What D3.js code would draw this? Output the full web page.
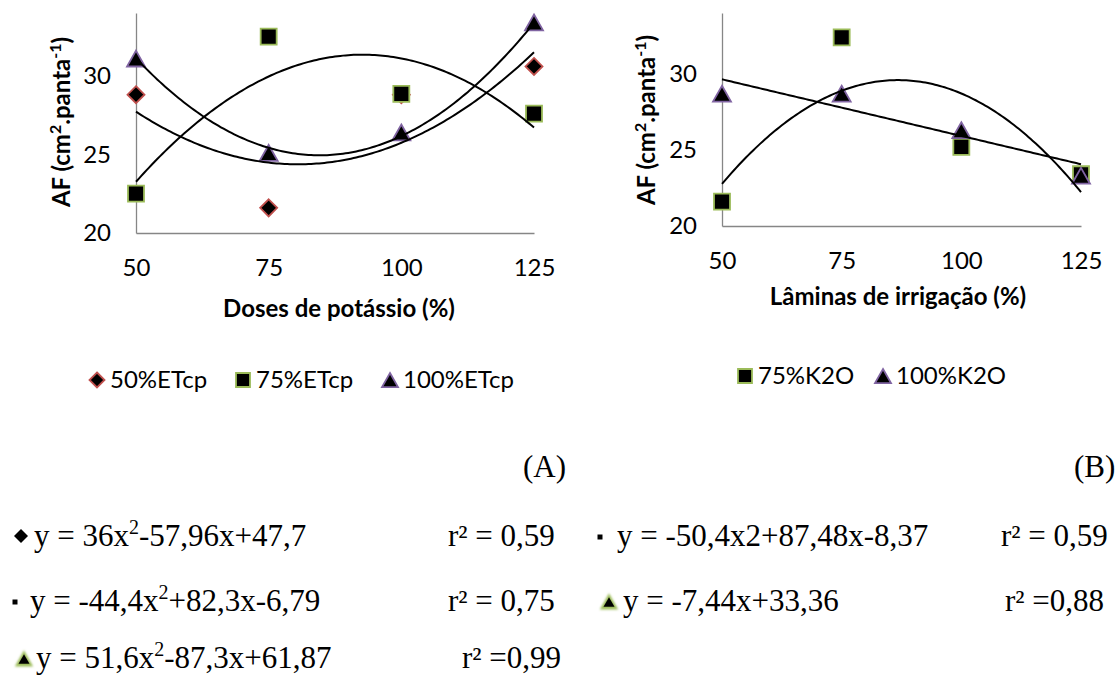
<!DOCTYPE html>
<html>
<head>
<meta charset="utf-8">
<script src="https://cdn.jsdelivr.net/npm/d3@7"></script>
<style>
  body { margin: 0; background: #fff; }
  svg { display: block; }
</style>
</head>
<body>
<svg id="fig" width="1116" height="677"></svg>
<script>
// ---- data -------------------------------------------------------------
const doses = [50, 75, 100, 125];            // Doses de potássio (%)
const laminas = [50, 75, 100, 125];          // Lâminas de irrigação (%)
const yTicks = [20, 25, 30];

const af50ETcp  = [28.8, 21.6, 28.8, 30.6];
const af75ETcp  = [22.5, 32.5, 28.85, 27.6];
const af100ETcp = [31.1, 25.1, 26.4, 33.4];

const af75K2O  = [21.6, 32.4, 25.2, 23.4];
const af100K2O = [28.7, 28.7, 26.3, 23.3];

// trend coefficients [a, b, c] of y = a·x² + b·x + c, x = level / 100
const fit50ETcp  = [36, -57.96, 47.7];
const fit75ETcp  = [-44.4, 82.3, -6.79];
const fit100ETcp = [51.6, -87.3, 61.87];
const fit75K2O   = [-50.4, 87.48, -8.37];
const fit100K2O  = [0, -7.44, 33.36];

const legendA = ["50%ETcp", "75%ETcp", "100%ETcp"];
const legendB = ["75%K2O", "100%K2O"];

// ---- styles -----------------------------------------------------------
const SANS = "Lato, 'Open Sans', sans-serif";
const SERIF = "'Liberation Serif', 'DejaVu Serif', serif";
const AXIS_GREY = "#868686";
const RED = "#c0504d", GREEN = "#9bbb59", PURPLE = "#8064a2";
const FS = 24;

const svg = d3.select("#fig");

// glow used by the small triangles in the equation list
const defs = svg.append("defs");
const glow = defs.append("filter").attr("id", "glow")
  .attr("x", "-50%").attr("y", "-50%").attr("width", "200%").attr("height", "200%");
glow.append("feGaussianBlur").attr("stdDeviation", 1.1);

// marker shapes
function markerPath(kind, s) {
  if (kind === "diamond") {
    const h = s / 2;
    return `M0,${-h}L${h},0L0,${h}L${-h},0Z`;
  }
  if (kind === "square") {
    const h = s / 2;
    return `M${-h},${-h}H${h}V${h}H${-h}Z`;
  }
  // triangle, centred on its bounding box
  const w = s, h = s * 0.88;
  return `M0,${-h / 2}L${w / 2},${h / 2}L${-w / 2},${h / 2}Z`;
}
const markerStroke = { diamond: RED, square: GREEN, triangle: PURPLE };
const markerSize = { diamond: 17, square: 16, triangle: 18 };

function drawPanel(cfg) {
  const g = svg.append("g");
  const x = d3.scaleLinear().domain([50, 125]).range(cfg.xRange);
  const y = d3.scaleLinear().domain([20, 34]).range(cfg.yRange);

  // axes
  const yAxis = g.append("g")
    .attr("transform", `translate(${cfg.xRange[0]},0)`)
    .call(d3.axisLeft(y).tickValues(yTicks).tickSize(0).tickSizeOuter(0).tickPadding(25));
  const xAxis = g.append("g")
    .attr("transform", `translate(0,${cfg.yRange[0]})`)
    .call(d3.axisBottom(x).tickValues(cfg.xValues).tickSize(0).tickSizeOuter(0).tickPadding(26));
  [yAxis, xAxis].forEach(a => {
    a.select(".domain").attr("stroke", AXIS_GREY).attr("stroke-width", 1.3);
    a.selectAll("text").attr("font-family", SANS).attr("font-size", FS).attr("fill", "#000");
  });

  // axis titles
  g.append("text")
    .attr("x", cfg.xTitlePos[0]).attr("y", cfg.xTitlePos[1])
    .attr("text-anchor", "middle")
    .attr("font-family", SANS).attr("font-size", FS).attr("font-weight", "bold")
    .text(cfg.xTitle);

  const yt = g.append("text")
    .attr("transform", `translate(${cfg.yTitlePos[0]},${cfg.yTitlePos[1]}) rotate(-90)`)
    .attr("text-anchor", "middle")
    .attr("font-family", SANS).attr("font-size", FS).attr("font-weight", "bold");
  yt.append("tspan").text("AF (cm");
  yt.append("tspan").attr("dy", -9).attr("font-size", 16).text("2");
  yt.append("tspan").attr("dy", 9).text(".panta");
  yt.append("tspan").attr("dy", -9).attr("font-size", 16).text("-1");
  yt.append("tspan").attr("dy", 9).text(")");

  // markers
  cfg.series.forEach(s => {
    g.append("g").selectAll("path")
      .data(s.values.map((v, i) => [cfg.xValues[i], v]))
      .join("path")
      .attr("transform", d => `translate(${x(d[0])},${y(d[1])})`)
      .attr("d", markerPath(s.kind, markerSize[s.kind]))
      .attr("fill", "#000")
      .attr("stroke", markerStroke[s.kind])
      .attr("stroke-width", 1.8)
      .attr("stroke-linejoin", "miter");
  });

  // trend lines
  const line = d3.line().x(d => x(d[0])).y(d => y(d[1]));
  cfg.series.forEach(s => {
    const [a, b, c] = s.fit;
    const pts = d3.range(50, 125.01, 0.5).map(p => {
      const t = p / 100;
      return [p, a * t * t + b * t + c];
    });
    g.append("path").datum(pts)
      .attr("d", line)
      .attr("fill", "none")
      .attr("stroke", "#000")
      .attr("stroke-width", 2);
  });

  // legend
  const lg = g.append("g");
  cfg.series.forEach((s, i) => {
    const [mx, tx] = cfg.legendX[i];
    lg.append("path")
      .attr("transform", `translate(${mx},${cfg.legendY - 8})`)
      .attr("d", markerPath(s.kind, markerSize[s.kind] - 2))
      .attr("fill", "#000")
      .attr("stroke", markerStroke[s.kind])
      .attr("stroke-width", 1.8);
    lg.append("text")
      .attr("x", tx).attr("y", cfg.legendY)
      .attr("font-family", SANS).attr("font-size", FS)
      .text(cfg.legendLabels[i]);
  });
}

drawPanel({
  xRange: [136, 534], yRange: [233, 13], xValues: doses,
  xTitle: "Doses de potássio (%)", xTitlePos: [339, 317],
  yTitlePos: [70, 122],
  series: [
    { values: af50ETcp,  kind: "diamond",  fit: fit50ETcp },
    { values: af75ETcp,  kind: "square",   fit: fit75ETcp },
    { values: af100ETcp, kind: "triangle", fit: fit100ETcp }
  ],
  legendLabels: legendA,
  legendX: [[97, 110], [243, 256], [390, 403]],
  legendY: 388
});

drawPanel({
  xRange: [722, 1081], yRange: [226, 13], xValues: laminas,
  xTitle: "Lâminas de irrigação (%)", xTitlePos: [898, 305],
  yTitlePos: [655, 120],
  series: [
    { values: af75K2O,  kind: "square",   fit: fit75K2O },
    { values: af100K2O, kind: "triangle", fit: fit100K2O }
  ],
  legendLabels: legendB,
  legendX: [[745, 758], [883, 896]],
  legendY: 384
});

// ---- panel letters and fitted equations -------------------------------
const notes = svg.append("g").attr("font-family", SERIF).attr("font-size", 31).attr("fill", "#000");
notes.append("text").attr("x", 523).attr("y", 477).text("(A)");
notes.append("text").attr("x", 1074).attr("y", 477).text("(B)");

// plain strings are set on the baseline, {sup} parts are raised
function equation(xPos, yPos, parts) {
  const t = notes.append("text").attr("x", xPos).attr("y", yPos);
  let shift = 0;
  parts.forEach(p => {
    if (typeof p === "string") {
      t.append("tspan").attr("dy", -shift).text(p);
      shift = 0;
    } else {
      t.append("tspan").attr("dy", -12).attr("font-size", 20).text(p.sup);
      shift = -12;
    }
  });
  return t;
}

// equation symbols
function bullet(kind, cx, cy) {
  if (kind === "diamond") {
    notes.append("path").attr("transform", `translate(${cx},${cy})`)
      .attr("d", markerPath("diamond", 14)).attr("fill", "#000");
  } else if (kind === "square") {
    notes.append("path").attr("transform", `translate(${cx},${cy})`)
      .attr("d", markerPath("square", 5)).attr("fill", "#000");
  } else {
    notes.append("path").attr("transform", `translate(${cx},${cy})`)
      .attr("d", markerPath("triangle", 14)).attr("fill", GREEN)
      .attr("stroke", GREEN).attr("stroke-width", 2.5).attr("filter", "url(#glow)");
    notes.append("path").attr("transform", `translate(${cx},${cy})`)
      .attr("d", markerPath("triangle", 11)).attr("fill", "#000");
  }
}

const rowY = [546, 611, 668];

bullet("diamond", 21, rowY[0] - 10);
equation(34, rowY[0], ["y = 36x", { sup: "2" }, "-57,96x+47,7"]);
equation(448, rowY[0], ["r² = 0,59"]);

bullet("square", 15, rowY[1] - 9);
equation(30, rowY[1], ["y = -44,4x", { sup: "2" }, "+82,3x-6,79"]);
equation(448, rowY[1], ["r² = 0,75"]);

bullet("triangle", 24, rowY[2] - 9);
equation(36, rowY[2], ["y = 51,6x", { sup: "2" }, "-87,3x+61,87"]);
equation(462, rowY[2], ["r² =0,99"]);

bullet("square", 600, rowY[0] - 9);
equation(617, rowY[0], ["y = -50,4x2+87,48x-8,37"]);
equation(1001, rowY[0], ["r² = 0,59"]);

bullet("triangle", 609, rowY[1] - 9);
equation(623, rowY[1], ["y = -7,44x+33,36"]);
equation(1005, rowY[1], ["r² =0,88"]);
</script>
</body>
</html>
